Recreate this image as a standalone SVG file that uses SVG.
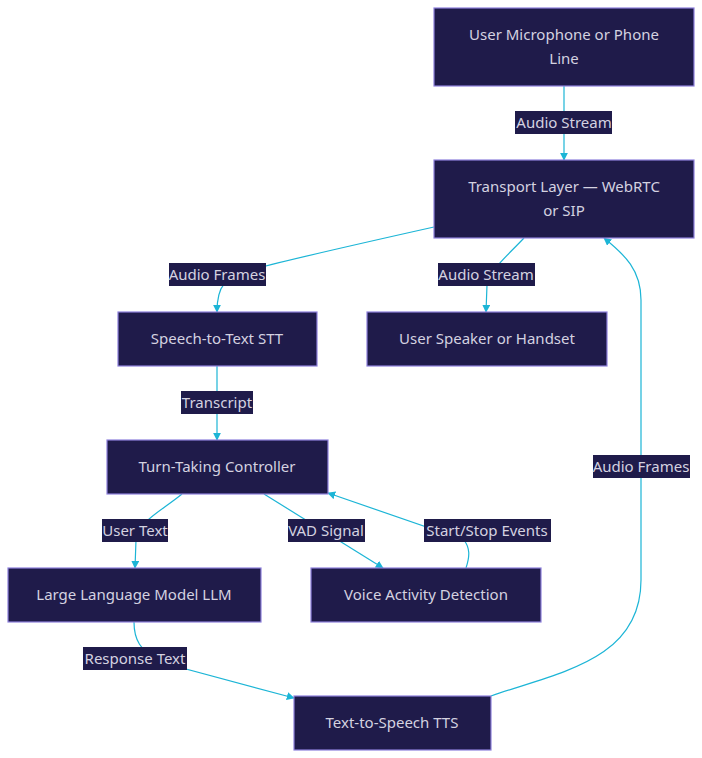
<svg xmlns="http://www.w3.org/2000/svg" width="702" height="758" viewBox="0 0 702 758">
<defs>
<marker id="arr" viewBox="0 0 10 10" refX="9" refY="5" markerWidth="8" markerHeight="8" orient="auto-start-reverse" markerUnits="userSpaceOnUse">
<path d="M0,0 L10,5 L0,10 z" fill="#1cb5d6"/>
</marker>
<style>
.node rect{fill:#1f1b4a;stroke:#8e80dc;stroke-width:1.2}
.node text{fill:#d4d2e0;font-family:"Noto Sans","Open Sans",sans-serif;font-size:15px;text-anchor:middle;dominant-baseline:central}
.edge{fill:none;stroke:#1cb5d6;stroke-width:1.2;marker-end:url(#arr)}
.lbl rect{fill:#1f1b4a}
.lbl text{fill:#d4d2e0;font-family:"Noto Sans","Open Sans",sans-serif;font-size:15px;text-anchor:middle;dominant-baseline:central}
</style>
</defs>
<rect width="702" height="758" fill="#ffffff"/>
<g id="connectors">
<path class="edge" d="M564,86 L564,160"/>
<path class="edge" d="M434,227 C340,248 280,262 250,270 C225,278 217,285 217,312"/>
<path class="edge" d="M524,238 C505,258 490,270 487,285 L486,312"/>
<path class="edge" d="M217,366 L217,440"/>
<path class="edge" d="M182,494 C160,512 140,520 136,540 L135,568"/>
<path class="edge" d="M264,494 L383,568"/>
<path class="edge" d="M466,568 C470,556 470,548 464,540 L328,493"/>
<path class="edge" d="M134,622 C134,640 140,650 160,662 L294,698"/>
<path class="edge" d="M491,696 C560,672 641,660 641,580 L641,300 C641,270 625,255 604,238"/>
<g class="lbl"><rect x="515" y="111" width="97" height="23"/><text x="564" y="122">Audio Stream</text></g>
<g class="lbl"><rect x="169" y="263" width="97" height="23"/><text x="217" y="274">Audio Frames</text></g>
<g class="lbl"><rect x="438" y="263" width="97" height="23"/><text x="486" y="274">Audio Stream</text></g>
<g class="lbl"><rect x="181" y="391" width="72" height="23"/><text x="217" y="402">Transcript</text></g>
<g class="lbl"><rect x="102" y="519" width="66" height="23"/><text x="135" y="530">User Text</text></g>
<g class="lbl"><rect x="288" y="519" width="77" height="23"/><text x="326" y="530">VAD Signal</text></g>
<g class="lbl"><rect x="424" y="519" width="127" height="23"/><text x="487" y="530">Start/Stop Events</text></g>
<g class="lbl"><rect x="83" y="647" width="104" height="23"/><text x="135" y="658">Response Text</text></g>
<g class="lbl"><rect x="593" y="455" width="97" height="23"/><text x="641" y="466">Audio Frames</text></g>
</g>
<g id="mic" class="node"><rect x="434" y="8" width="260" height="78"/><text x="564" y="34">User Microphone or Phone</text><text x="564" y="58">Line</text></g>
<g id="transport" class="node"><rect x="434" y="160" width="260" height="78"/><text x="564" y="186">Transport Layer — WebRTC</text><text x="564" y="210">or SIP</text></g>
<g id="stt" class="node"><rect x="118" y="312" width="199" height="54"/><text x="217" y="338">Speech-to-Text STT</text></g>
<g id="speaker" class="node"><rect x="367" y="312" width="240" height="54"/><text x="487" y="338">User Speaker or Handset</text></g>
<g id="turn" class="node"><rect x="107" y="440" width="221" height="54"/><text x="217" y="466">Turn-Taking Controller</text></g>
<g id="llm" class="node"><rect x="8" y="568" width="253" height="54"/><text x="134" y="594">Large Language Model LLM</text></g>
<g id="vad" class="node"><rect x="311" y="568" width="230" height="54"/><text x="426" y="594">Voice Activity Detection</text></g>
<g id="tts" class="node"><rect x="294" y="696" width="197" height="54"/><text x="392" y="722">Text-to-Speech TTS</text></g>
</svg>
